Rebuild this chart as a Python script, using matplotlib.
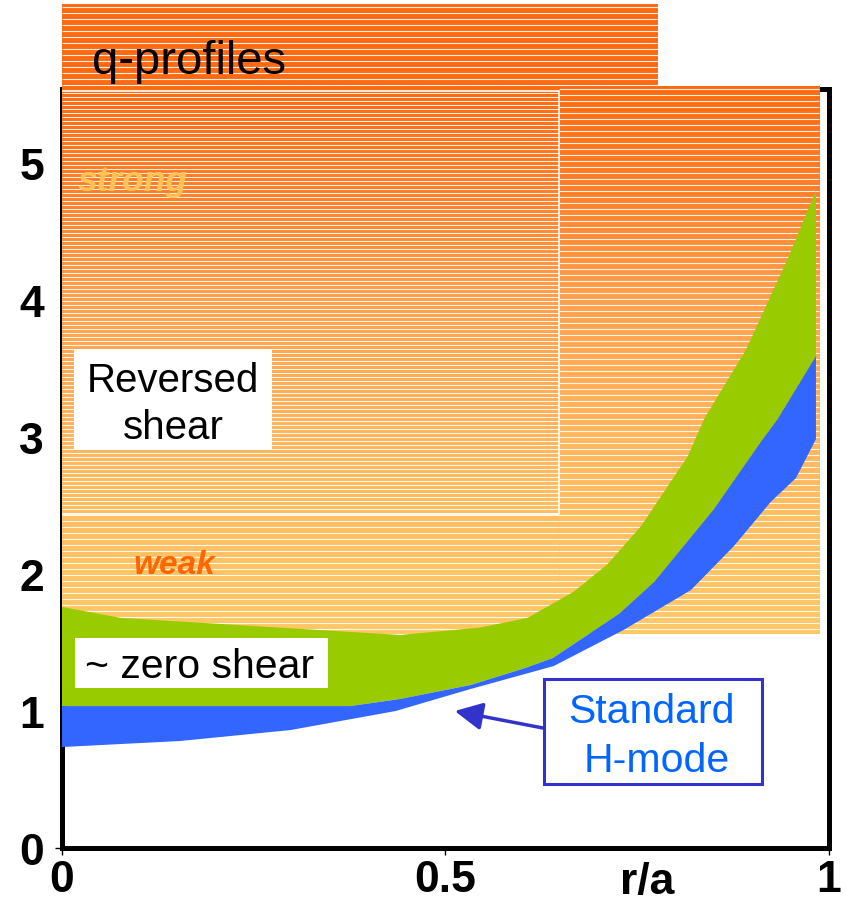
import numpy as np
import matplotlib.pyplot as plt
from matplotlib.colors import LinearSegmentedColormap
from matplotlib.patches import Rectangle

plt.rcParams['font.family'] = ['Liberation Sans', 'DejaVu Sans']

# ---- q-profile bands (r/a , q) ----
# green band = reversed / zero shear, upper edge
green_top_r = [0.0, 0.076, 0.441, 0.546, 0.607, 0.667, 0.711, 0.755, 0.816, 0.837, 0.892, 0.946, 0.983]
green_top_q = [1.76, 1.68, 1.555, 1.61, 1.68, 1.87, 2.07, 2.35, 2.86, 3.13, 3.64, 4.30, 4.80]
# boundary green / blue
mid_r = [0.0, 0.376, 0.441, 0.533, 0.604, 0.640, 0.726, 0.772, 0.850, 0.911, 0.933, 0.983]
mid_q = [1.036, 1.036, 1.088, 1.19, 1.314, 1.387, 1.708, 1.942, 2.474, 2.964, 3.131, 3.591]
# blue band = standard H-mode, lower edge
blue_bot_r = [0.0, 0.154, 0.298, 0.435, 0.533, 0.641, 0.732, 0.820, 0.876, 0.924, 0.957, 0.983]
blue_bot_q = [0.737, 0.781, 0.861, 1.0, 1.161, 1.328, 1.591, 1.883, 2.204, 2.526, 2.701, 2.985]

x_ticks = [0, 0.5, 1]
x_labels = ['0', '0.5', '1']
y_ticks = [0, 1, 2, 3, 4, 5]

fig = plt.figure(figsize=(8.48, 9.03), dpi=100)
ax = fig.add_axes([0.0731, 0.0598, 0.9045, 0.8405])
ax.set_xlim(0, 1)
ax.set_ylim(0, 5.54)

for s in ax.spines.values():
    s.set_linewidth(3.6)

# ---- striped orange background ----
cmap = LinearSegmentedColormap.from_list('shear', [
    (0.0, '#FFC866'), (0.11, '#FFC463'), (0.36, '#FFB65C'),
    (0.61, '#FFA04C'), (0.81, '#FF7F28'), (1.0, '#FF6A10')])
y_lo, y_hi, x_hi = 1.562, 5.56, 0.987
grad = np.linspace(0, 1, 256).reshape(-1, 1)
bg = ax.imshow(grad, extent=[0, x_hi, y_lo, y_hi], origin='lower', cmap=cmap,
               aspect='auto', zorder=3, interpolation='bilinear')
bg.set_clip_on(False)

# outer stripes (6 px), inner box stripes (4 px)
step_out = 6 / 137.0
step_in = 4 / 137.0
x_in, y_in, y_in_top = 0.648, 2.438, 5.526
ys = np.arange(y_hi - step_out / 2, y_lo, -step_out)
ax.hlines(ys, x_in, x_hi, color='white', lw=0.8, alpha=0.9, zorder=3.1, clip_on=False)
ax.hlines(ys[ys < y_in], 0, x_in, color='white', lw=0.8, alpha=0.9, zorder=3.1)
ys_in = np.arange(y_in_top - step_in / 2, y_in, -step_in)
ax.hlines(ys_in, 0, x_in, color='white', lw=0.75, alpha=0.9, zorder=3.1)
ax.plot([0, x_in, x_in, 0], [y_in_top, y_in_top, y_in, y_in], color='white', lw=1.2, zorder=3.2)

# title strip above the axes
top_lo, top_hi, top_x = 5.56, 6.161, 0.777
ax.add_patch(Rectangle((0, top_lo), top_x, top_hi - top_lo, facecolor='#FF6A10',
                       edgecolor='none', clip_on=False, zorder=3))
ax.hlines(np.arange(top_hi - step_out / 2, top_lo, -step_out), 0, top_x,
          color='white', lw=0.8, alpha=0.9, clip_on=False, zorder=3.1)

# ---- bands ----
ax.fill(np.concatenate([green_top_r, mid_r[::-1]]), np.concatenate([green_top_q, mid_q[::-1]]),
        color='#99CC00', lw=0, zorder=4)
ax.fill(np.concatenate([mid_r, blue_bot_r[::-1]]), np.concatenate([mid_q, blue_bot_q[::-1]]),
        color='#3366FF', lw=0, zorder=4)

# ---- labels ----
ax.text(0.039, 5.66, 'q-profiles', fontsize=34, va='baseline', ha='left', zorder=6, clip_on=False)
ax.text(0.021, 4.80, 'strong', fontsize=25.5, fontweight='bold', fontstyle='italic',
        color='#FFC458', va='baseline', zorder=6)
ax.text(0.0926, 2.007, 'weak', fontsize=24, fontweight='bold', fontstyle='italic',
        color='#FF6600', va='baseline', zorder=6)

ax.add_patch(Rectangle((0.0156, 2.912), 0.258, 0.730, facecolor='white', edgecolor='none', zorder=5))
ax.text(0.1447, 3.336, 'Reversed', fontsize=29, ha='center', va='baseline', zorder=6)
ax.text(0.1447, 2.993, 'shear', fontsize=29, ha='center', va='baseline', zorder=6)

ax.add_patch(Rectangle((0.017, 1.168), 0.330, 0.365, facecolor='white', edgecolor='none', zorder=5))
ax.text(0.030, 1.248, '~ zero shear', fontsize=29.5, ha='left', va='baseline', zorder=6)

ax.add_patch(Rectangle((0.628, 0.467), 0.285, 0.767, facecolor='white', edgecolor='#3333CC',
                       lw=2.2, zorder=5))
ax.text(0.768, 0.920, 'Standard', fontsize=29.5, color='#0066FF', ha='center', va='baseline', zorder=6)
ax.text(0.775, 0.562, 'H-mode', fontsize=29.5, color='#0066FF', ha='center', va='baseline', zorder=6)
ax.annotate('', xy=(0.512, 1.0), xytext=(0.627, 0.876),
            arrowprops=dict(arrowstyle='-|>', color='#3333CC', lw=2.5, mutation_scale=42,
                            shrinkA=0, shrinkB=0), zorder=6)

# ---- axes ----
ax.set_xticks(x_ticks)
ax.set_xticklabels(x_labels)
ax.set_yticks(y_ticks)
ax.tick_params(direction='out', length=5, width=1, pad=3, labelsize=32)
ax.tick_params(axis='y', pad=8)
for t in ax.yaxis.get_major_ticks()[1:]:
    t.tick1line.set_visible(False)
for lab in ax.get_xticklabels() + ax.get_yticklabels():
    lab.set_fontweight('bold')
ax.text(0.763, -0.33, 'r/a', fontsize=32, fontweight='bold', ha='center', va='baseline')

fig.savefig('out.png', dpi=100)
